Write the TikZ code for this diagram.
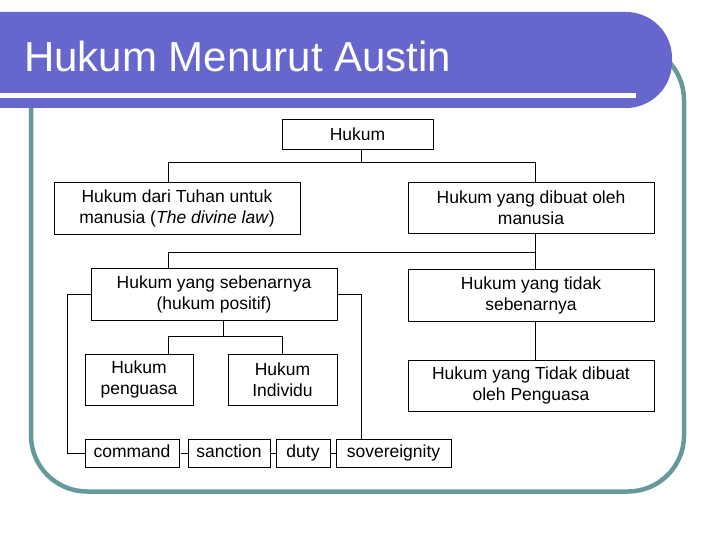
\documentclass[tikz,border=0pt]{standalone}
\usepackage{fontspec}
\setmainfont{Liberation Sans}
\definecolor{bannerblue}{RGB}{102,102,204}
\definecolor{frameteal}{RGB}{102,153,153}

\begin{document}
\begin{tikzpicture}[x=1pt,y=1pt,
  box/.style={draw,line width=0.9pt,inner sep=0pt,align=center,
    font=\fontsize{17.5}{21}\selectfont},
  word/.style={box,minimum height=28,execute at begin node=\strut},
  link/.style={line width=0.9pt}]
  \useasboundingbox (0,0) rectangle (720,-540);
  \draw[frameteal,line width=4.5pt,rounded corners=56] (31,-44) rectangle (684,-491.5);
  \fill[bannerblue] (0,-12) -- (626,-12) arc[start angle=90,end angle=0,radius=46]
    -- (672,-62) arc[start angle=0,end angle=-90,radius=46] -- (0,-108) -- cycle;
  \draw[white,line width=4.5pt] (0,-95.5) -- (636,-95.5);
  \node[anchor=base west,text=white,inner sep=0pt,font=\fontsize{42}{50}\selectfont] (title) at (24,-72) {Hukum Menurut Austin};

  \node[box,minimum width=151,minimum height=30] (hukum) at (357.5,-134) {Hukum};
  \node[box,minimum width=246,minimum height=52] (tuhan) at (177,-208) {Hukum dari Tuhan untuk\\manusia (\textit{The divine law})};
  \node[box,minimum width=246,minimum height=51] (dibuat) at (531,-207.5) {Hukum yang dibuat oleh\\manusia};
  \node[box,minimum width=246,minimum height=52] (sebenarnya) at (214,-294) {Hukum yang sebenarnya\\(hukum positif)};
  \node[box,minimum width=246,minimum height=52] (tidak) at (531,-295) {Hukum yang tidak\\sebenarnya};
  \node[box,minimum width=108,minimum height=51] (penguasa) at (139,-379.5) {Hukum\\penguasa};
  \node[box,minimum width=109,minimum height=51] (individu) at (282.5,-379.5) {Hukum\\Individu};
  \node[box,minimum width=246,minimum height=51] (tidakdibuat) at (531,-385.5) {Hukum yang Tidak dibuat\\oleh Penguasa};
  \node[word,minimum width=94] (command) at (132,-453) {command};
  \node[word,minimum width=82] (sanction) at (229,-453) {sanction};
  \node[word,minimum width=54] (duty) at (303,-453) {duty};
  \node[word,minimum width=115] (sovereignity) at (393.5,-453) {sovereignity};

  \coordinate (j1) at (168,-162);
  \coordinate (j2) at (535,-162);
  \coordinate (j3) at (168,-252);
  \coordinate (j4) at (168,-336);
  \coordinate (j5) at (223,-336);
  \coordinate (j6) at (361,-294);
  \coordinate (j7) at (67,-294);

  \draw[link] (hukum.south -| 361,0) -- (j1 -| 361,0);
  \draw[link] (j1) -- (j2);
  \draw[link] (j1) -- (j1 |- tuhan.north);
  \draw[link] (j2) -- (j2 |- dibuat.north);
  \draw[link] (j2 |- dibuat.south) -- (j2 |- tidak.north);
  \draw[link] (j3 -| j2) -- (j3) -- (j3 |- sebenarnya.north);
  \draw[link] (j2 |- tidak.south) -- (j2 |- tidakdibuat.north);
  \draw[link] (j5 |- sebenarnya.south) -- (j5);
  \draw[link] (j4 |- penguasa.north) -- (j4) -- (individu.north |- j4) -- (individu.north);
  \draw[link] (sebenarnya.west) -- (j7) |- (command.west);
  \draw[link] (sebenarnya.east) -- (j6) -- (j6 |- sovereignity.north);
  \draw[link] ([xshift=2]command.east) -- (sanction.west);
  \draw[link] ([xshift=1]sanction.east) -- (duty.west);
  \draw[link] ([xshift=1]duty.east) -- (sovereignity.west);
\end{tikzpicture}
\end{document}
